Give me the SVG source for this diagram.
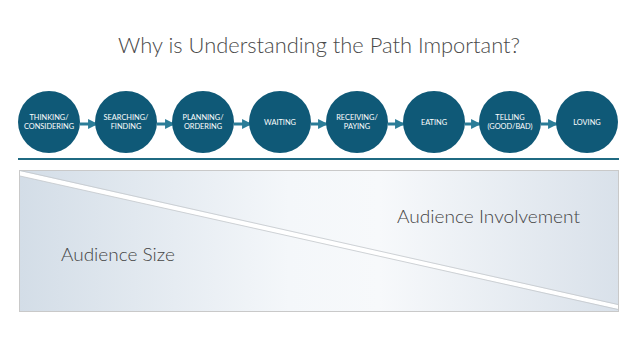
<svg xmlns="http://www.w3.org/2000/svg" width="638" height="359" viewBox="0 0 638 359">
<defs>
<style>
.title{font-family:Lato,"Open Sans",sans-serif;font-size:22px;fill:#4a4a4a;font-weight:300}
.node circle{fill:#0f5977}
.node text{font-family:Lato,"Liberation Sans",sans-serif;font-size:7.4px;fill:#ffffff;text-anchor:middle}
.big{font-family:Lato,"Open Sans",sans-serif;font-size:18px;fill:#444;font-weight:300}
.conn line{stroke:#2b7d98;stroke-width:3}
</style>
<marker id="ah" viewBox="0 0 10 10" refX="9" refY="5" markerWidth="3.3" markerHeight="3.3" orient="auto" markerUnits="strokeWidth">
<path d="M0,0 L10,5 L0,10 Z" fill="#2b7d98"/>
</marker>
<linearGradient id="bg" x1="0" y1="0" x2="1" y2="0">
<stop offset="0" stop-color="#d3dde7"/>
<stop offset="0.45" stop-color="#f4f7fa"/>
<stop offset="0.6" stop-color="#f7f9fb"/>
<stop offset="1" stop-color="#d9e1ea"/>
</linearGradient>
</defs>
<rect width="638" height="359" fill="#ffffff"/>
<text class="title" x="319" y="53" text-anchor="middle" textLength="402" lengthAdjust="spacingAndGlyphs">Why is Understanding the Path Important?</text>
<g class="conn">
<line x1="80" y1="124" x2="97" y2="124" marker-end="url(#ah)"/>
<line x1="157" y1="124" x2="174" y2="124" marker-end="url(#ah)"/>
<line x1="234" y1="124" x2="251" y2="124" marker-end="url(#ah)"/>
<line x1="311" y1="124" x2="327" y2="124" marker-end="url(#ah)"/>
<line x1="388" y1="124" x2="404" y2="124" marker-end="url(#ah)"/>
<line x1="465" y1="124" x2="480" y2="124" marker-end="url(#ah)"/>
<line x1="541" y1="124" x2="557" y2="124" marker-end="url(#ah)"/>
</g>
<g id="n1" class="node"><circle cx="49" cy="122" r="31"/><text x="49" y="120">THINKING/</text><text x="49" y="129">CONSIDERING</text></g>
<g id="n2" class="node"><circle cx="126" cy="122" r="31"/><text x="126" y="120">SEARCHING/</text><text x="126" y="129">FINDING</text></g>
<g id="n3" class="node"><circle cx="203" cy="122" r="31"/><text x="203" y="120">PLANNING/</text><text x="203" y="129">ORDERING</text></g>
<g id="n4" class="node"><circle cx="280" cy="122" r="31"/><text x="280" y="125">WAITING</text></g>
<g id="n5" class="node"><circle cx="357" cy="122" r="31"/><text x="357" y="120">RECEIVING/</text><text x="357" y="129">PAYING</text></g>
<g id="n6" class="node"><circle cx="434" cy="122" r="31"/><text x="434" y="125">EATING</text></g>
<g id="n7" class="node"><circle cx="510" cy="122" r="31"/><text x="510" y="120">TELLING</text><text x="510" y="129">(GOOD/BAD)</text></g>
<g id="n8" class="node"><circle cx="587" cy="122" r="31"/><text x="587" y="125">LOVING</text></g>
<line x1="18" y1="159" x2="619" y2="159" stroke="#1f6a82" stroke-width="2"/>
<rect x="19.5" y="170.5" width="599" height="141" fill="url(#bg)" stroke="#c9c9c9" stroke-width="1"/>
<polygon points="20,171 618,305 618,309 20,176" fill="#ffffff"/>
<line x1="20" y1="170.5" x2="618" y2="304.5" stroke="#c4c8cc" stroke-width="0.8"/>
<line x1="20" y1="176" x2="618" y2="309.5" stroke="#c4c8cc" stroke-width="0.8"/>
<text class="big" x="61" y="261" textLength="114" lengthAdjust="spacingAndGlyphs">Audience Size</text>
<text class="big" x="397" y="223" textLength="183" lengthAdjust="spacingAndGlyphs">Audience Involvement</text>
</svg>
